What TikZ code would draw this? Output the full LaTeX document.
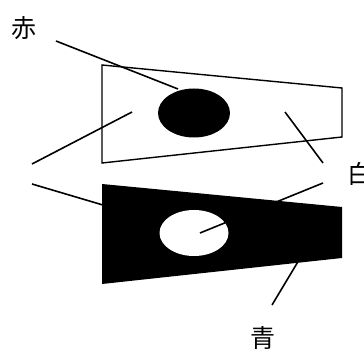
\documentclass[tikz,border=0pt]{standalone}
\usepackage{fontspec}
\newfontfamily\jpfont{Noto Sans CJK JP}
\usetikzlibrary{calc}
\tikzset{
  flag/.style={draw=black,line width=1.4pt,line join=miter},
  lead/.style={draw=black,line width=1.6pt},
  tag/.style={font=\jpfont\fontsize{25}{25}\selectfont,inner sep=0pt}
}

\begin{document}
\begin{tikzpicture}[x=1pt,y=-1pt]
  \useasboundingbox (0,0) rectangle (364,352);

  % upper flag, white with a black disc
  \draw[flag,fill=white] (102,65) -- (342,88) -- (342,137) -- (102,163) -- cycle;
  \fill[black] (194,113) ellipse [x radius=36, y radius=24.5];

  % lower flag, black with a white disc
  \fill[black] (102,184) -- (342,207) -- (342,258) -- (102,284) -- cycle;
  \fill[white] (194,233) ellipse [x radius=34.5, y radius=23];

  % labels
  \node[tag] (aka) at (24,28) {赤};
  \node[tag] (shiro) at (360,174) {白};
  \node[tag] (ao) at (263,338) {青};

  % ends of the leader lines
  \coordinate (akaA) at (56,41);
  \coordinate (akaB) at (178,89);
  \coordinate (leftA) at (32,164);
  \coordinate (leftB) at (132,112);
  \coordinate (leftC) at (32,184);
  \coordinate (leftD) at (140,216);
  \coordinate (shiroA) at (323,163);
  \coordinate (shiroB) at (285,112);
  \coordinate (shiroC) at (323,183);
  \coordinate (shiroD) at (200,233);
  \coordinate (aoA) at (272,305);
  \coordinate (aoB) at (305,250);

  \draw[lead] (akaA) -- (akaB);
  \draw[lead] (leftA) -- (leftB);
  \draw[lead] (leftC) -- (leftD);
  \draw[lead] (shiroA) -- (shiroB);
  \draw[lead] (shiroC) -- (shiroD);
  \draw[lead] (aoA) -- (aoB);
\end{tikzpicture}
\end{document}
